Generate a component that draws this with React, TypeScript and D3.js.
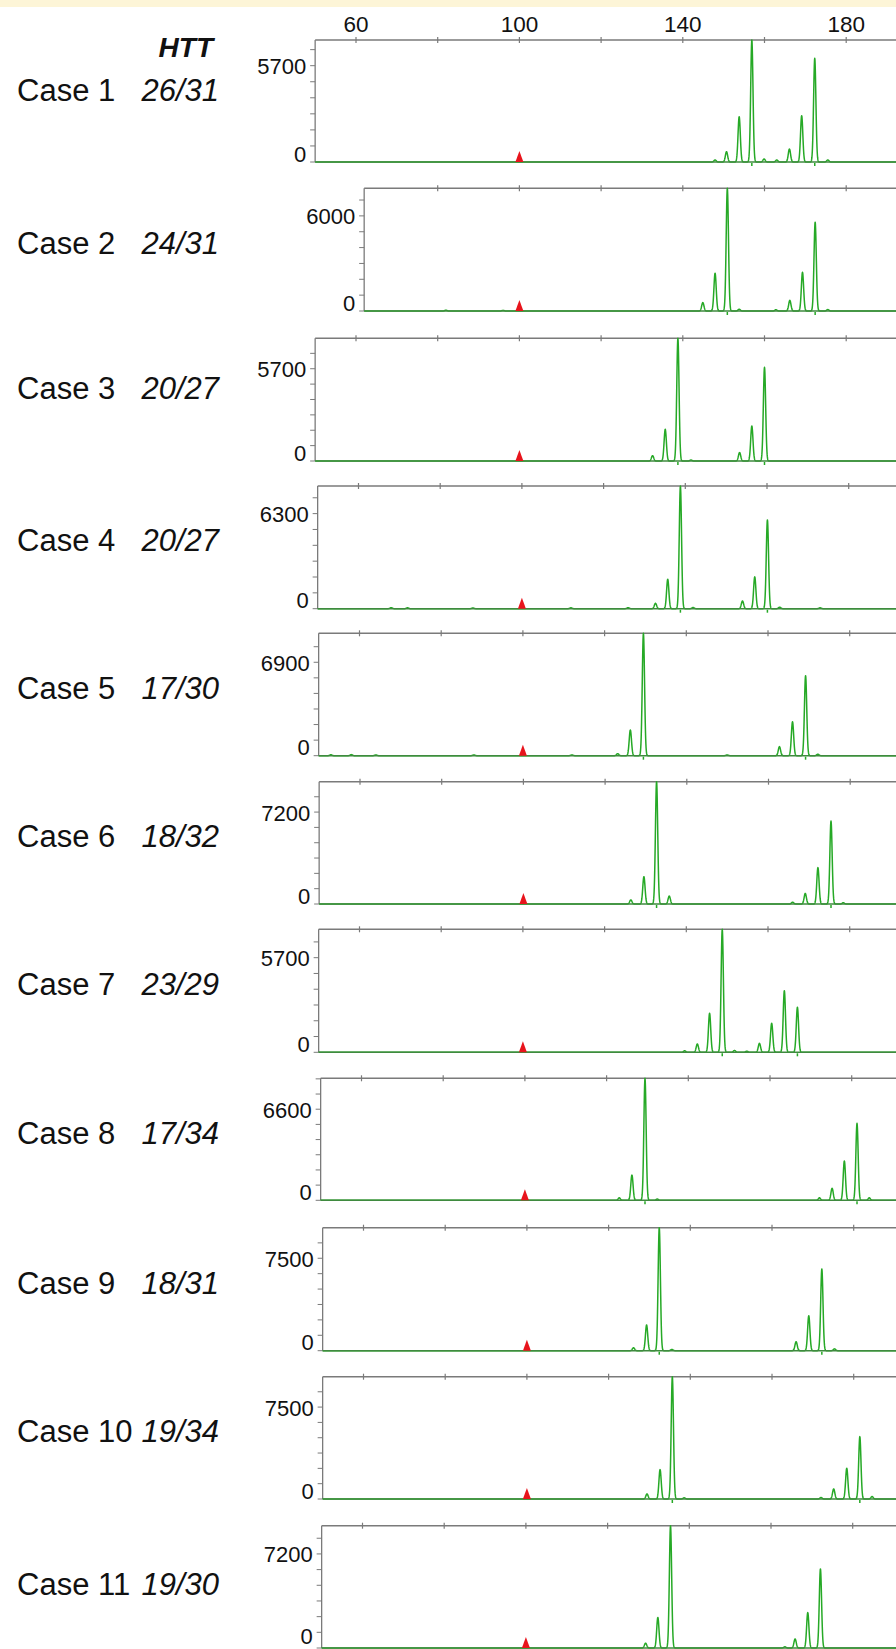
import React from "react";
import * as d3 from "d3";

// ---- data ----
const caseNames = ["Case 1", "Case 2", "Case 3", "Case 4", "Case 5", "Case 6", "Case 7", "Case 8", "Case 9", "Case 10", "Case 11"];
const genotypes = ["26/31", "24/31", "20/27", "20/27", "17/30", "18/32", "23/29", "17/34", "18/31", "19/34", "19/30"];
const yLabels = [5700, 6000, 5700, 6300, 6900, 7200, 5700, 6600, 7500, 7500, 7200];
const yMaxes = [7220, 7740, 7580, 8130, 9040, 9580, 7410, 8840, 9980, 9980, 9360];
const startSizes = [50, 62, 50, 50, 50, 50, 50, 50, 50, 50, 50];
const sizeTicks = [60, 80, 100, 120, 140, 160, 180, 200];
const sizeLabels = [60, 100, 140, 180];
const ladderSize = 100;

// [size (bp), height (RFU)]
const peaks1 = [[147.9, 120], [150.7, 610], [153.8, 2680], [156.9, 7220], [159.9, 180], [163.0, 120], [166.1, 770], [169.1, 2740], [172.3, 6140], [175.5, 120]];
const peaks2 = [[144.9, 530], [147.9, 2380], [150.9, 7740], [153.8, 110], [162.8, 80], [166.2, 670], [169.3, 2440], [172.4, 5600], [175.5, 90], [82, 50], [96, 40]];
const peaks3 = [[132.6, 330], [135.7, 1960], [138.8, 7580], [153.9, 520], [156.9, 2160], [160.0, 5790], [142, 60]];
const peaks4 = [[132.7, 360], [135.7, 1950], [138.8, 8130], [141.9, 80], [154.0, 510], [157.0, 2110], [160.1, 5880], [163.1, 100], [68, 70], [72, 60], [88, 50], [112, 60], [126, 70], [173, 60]];
const peaks5 = [[123.2, 150], [126.3, 1900], [129.5, 9040], [162.8, 670], [166.0, 2510], [169.2, 5910], [172.2, 110], [53, 70], [58, 80], [64, 60], [88, 60], [112, 60], [150, 60]];
const peaks6 = [[126.3, 320], [129.5, 2140], [132.6, 9580], [135.7, 620], [165.9, 140], [169.0, 830], [172.1, 2850], [175.3, 6500], [178.3, 100]];
const peaks7 = [[139.6, 90], [142.7, 500], [145.7, 2350], [148.8, 7410], [151.8, 110], [154.8, 70], [157.9, 540], [160.9, 1750], [164.0, 3710], [167.2, 2710]];
const peaks8 = [[123.1, 180], [126.2, 1830], [129.4, 8840], [132.4, 90], [172.1, 180], [175.2, 870], [178.2, 2850], [181.3, 5580], [184.3, 180]];
const peaks9 = [[126.1, 240], [129.3, 2090], [132.4, 9980], [135.5, 100], [165.9, 730], [169.0, 2840], [172.2, 6630], [175.3, 150]];
const peaks10 = [[129.4, 410], [132.6, 2400], [135.6, 9980], [138.5, 100], [172.0, 120], [175.1, 820], [178.3, 2510], [181.5, 5090], [184.5, 200]];
const peaks11 = [[129.3, 370], [132.3, 2340], [135.4, 9360], [163.4, 90], [165.9, 690], [169.0, 2710], [172.1, 6050]];
const allPeaks = [peaks1, peaks2, peaks3, peaks4, peaks5, peaks6, peaks7, peaks8, peaks9, peaks10, peaks11];

// called alleles (bp)
const alleleCalls = [[156.9, 172.3], [150.9, 172.4], [138.8, 160.0], [138.8, 160.1], [129.5, 169.2], [132.6, 175.3], [148.8, 167.2], [129.4, 181.3], [132.4, 172.2], [135.6, 181.5], [135.4, 172.1]];

// ---- layout ----
const W = 896;
const H = 1649;
const panelTop = [40, 188.3, 338.3, 486, 633.3, 781.7, 929.3, 1078.3, 1227.7, 1376.7, 1525.7];
const panelBase = [162, 311, 461, 608.7, 755.7, 904, 1052.3, 1200.3, 1350.7, 1499, 1648];
const panelShift = [0, 0, 0, 2.5, 3.5, 4, 3.5, 5.5, 7.5, 7.5, 6.5];
const labelDy = [-4, 0, -5, 0, 0, 0, 0, 1, 1, 0, 4];
const FONT = "'Liberation Sans', Arial, Helvetica, sans-serif";
const green = "#26a926";
const baseGreen = "#3f8a3f";
const axisGray = "#7a7a7a";
const sigma = 0.28;

function Panel({ i }: { i: number }) {
  const top = panelTop[i];
  const base = panelBase[i];
  const shift = panelShift[i];
  const x = d3.scaleLinear().domain([60, 180]).range([356 + shift, 846.2 + shift]);
  const y = d3.scaleLinear().domain([0, yMaxes[i]]).range([base, top]);
  const x0 = x(startSizes[i]);
  const peaks = allPeaks[i];

  const signal = (s: number) => d3.sum(peaks, (p) => p[1] * Math.exp(-0.5 * ((s - p[0]) / sigma) ** 2));
  const samples = d3.range(startSizes[i], 196, 0.05).concat(peaks.map((p) => p[0])).sort(d3.ascending);
  const line = d3.line<number>().x((s) => x(s)).y((s) => y(signal(s)));

  const yTicks = d3.range(0, yMaxes[i], yLabels[i] / 6);
  const xTicks = sizeTicks.filter((t) => x(t) > x0 + 1);
  const lx = x(ladderSize);
  const ly = (top + base) / 2 + 4 + labelDy[i];

  return (
    <g>
      <line x1={x0} x2={W} y1={top} y2={top} stroke={axisGray} strokeWidth={1.5} />
      <line x1={x0} x2={x0} y1={top} y2={base} stroke={axisGray} strokeWidth={1.3} />
      {xTicks.map((t) => (
        <line key={t} x1={x(t)} x2={x(t)} y1={top - 3} y2={top + 3} stroke={axisGray} strokeWidth={1.2} />
      ))}
      {yTicks.map((t, k) => (
        <line key={k} x1={x0 - 5} x2={x0} y1={y(t)} y2={y(t)} stroke={axisGray} strokeWidth={1} />
      ))}
      <text x={x0 - 9} y={y(yLabels[i]) + 1} fontSize={22} textAnchor="end" dominantBaseline="central" fill="#111">
        {yLabels[i]}
      </text>
      <text x={x0 - 9} y={Math.min(base - 8, H - 13)} fontSize={22} textAnchor="end" dominantBaseline="central" fill="#111">
        0
      </text>
      {i === 0 &&
        sizeLabels.map((t) => (
          <text key={t} x={x(t)} y={31.5} fontSize={22.5} textAnchor="middle" fill="#111">
            {t}
          </text>
        ))}
      <path d={line(samples.filter((s) => x(s) >= x0)) || ""} fill="none" stroke={green} strokeWidth={1.5} strokeLinejoin="round" />
      <line x1={x0} x2={W} y1={base} y2={base} stroke={baseGreen} strokeWidth={1.6} />
      <path d={`M${lx - 4},${base} L${lx},${base - 11} L${lx + 4},${base} Z`} fill="#e8141c" />
      {alleleCalls[i].map((c) => (
        <line key={c} x1={x(c)} x2={x(c)} y1={base + 1} y2={base + 4} stroke={green} strokeWidth={1.5} />
      ))}
      <text x={17} y={ly} fontSize={31} fill="#111">
        {caseNames[i]}
      </text>
      <text x={219} y={ly} fontSize={31} fontStyle="italic" textAnchor="end" fill="#111">
        {genotypes[i]}
      </text>
    </g>
  );
}

export default function App() {
  return (
    <svg width={W} height={H} style={{ position: "absolute", left: 0, top: 0, background: "#fff" }} fontFamily={FONT}>
      <rect x={0} y={0} width={W} height={7} fill="#fdf5d7" />
      <text x={213} y={57} fontSize={28} fontWeight="bold" fontStyle="italic" textAnchor="end" fill="#111">
        HTT
      </text>
      {caseNames.map((_, i) => (
        <Panel key={i} i={i} />
      ))}
    </svg>
  );
}
